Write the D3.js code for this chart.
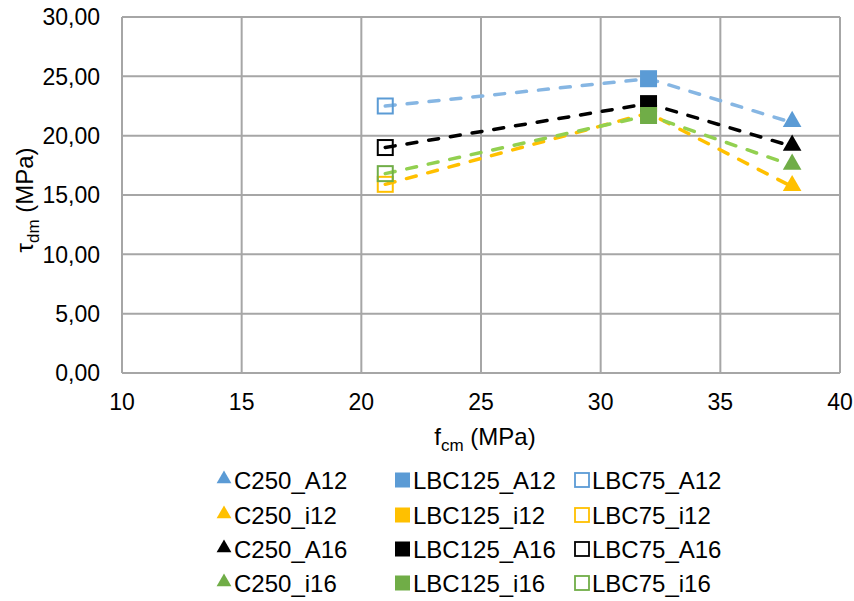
<!DOCTYPE html>
<html>
<head>
<meta charset="utf-8">
<script src="https://cdn.jsdelivr.net/npm/d3@7"></script>
<style>
  body { margin: 0; background: #fff; }
  text { font-family: "Liberation Sans", Arial, sans-serif; fill: #000; }
</style>
</head>
<body>
<div id="chart"></div>
<script>
'use strict';

// data
var groups = ["A12", "i12", "A16", "i16"];
var markerColors = ["#5B9BD5", "#FFC000", "#000000", "#70AD47"];
var lineColors = ["#86B6E3", "#FFC000", "#000000", "#92D050"];
var lbc75X = 21, lbc125X = 32, c250X = 38;
var lbc75Values = [22.5, 15.9, 19.0, 16.8];
var lbc125Values = [24.8, 21.9, 22.7, 21.7];
var c250Values = [21.1, 15.7, 19.1, 17.5];
var xTicks = [10, 15, 20, 25, 30, 35, 40];
var yTicks = [0, 5, 10, 15, 20, 25, 30];

var svgWidth = 854, svgHeight = 601,
    margin = { top: 17, left: 122, right: 14, bottom: 228 };
var width = svgWidth - margin.left - margin.right;
var height = svgHeight - margin.top - margin.bottom;

var svg = d3.select("#chart").append("svg")
  .attr("width", svgWidth)
  .attr("height", svgHeight);

var main = svg.append("g")
  .attr("transform", "translate(" + margin.left + "," + margin.top + ")");

var x = d3.scaleLinear().domain([10, 40]).range([0, width]);
var y = d3.scaleLinear().domain([0, 30]).range([height, 0]);

var fmt = function(v) { return d3.format(".2f")(v).replace(".", ","); };

// grid
main.selectAll(".hgrid").data(yTicks).enter().append("line")
  .attr("x1", 0).attr("x2", width)
  .attr("y1", function(d) { return y(d); })
  .attr("y2", function(d) { return y(d); })
  .attr("stroke", "#A6A6A6").attr("stroke-width", 2);

main.selectAll(".vgrid").data(xTicks).enter().append("line")
  .attr("y1", 0).attr("y2", height)
  .attr("x1", function(d) { return x(d); })
  .attr("x2", function(d) { return x(d); })
  .attr("stroke", "#A6A6A6").attr("stroke-width", 2);

// tick labels
main.selectAll(".ylab").data(yTicks).enter().append("text")
  .attr("x", -22)
  .attr("y", function(d) { return y(d); })
  .attr("dy", "0.36em")
  .attr("text-anchor", "end")
  .style("font-size", "23px")
  .text(fmt);

main.selectAll(".xlab").data(xTicks).enter().append("text")
  .attr("x", function(d) { return x(d); })
  .attr("y", height + 37)
  .attr("text-anchor", "middle")
  .style("font-size", "23px")
  .text(function(d) { return d; });

// axis titles
var xt = main.append("text")
  .attr("x", width / 2 + 4)
  .attr("y", height + 72)
  .attr("text-anchor", "middle")
  .style("font-size", "24px");
xt.append("tspan").text("f");
xt.append("tspan").attr("dy", 6).style("font-size", "17px").text("cm");
xt.append("tspan").attr("dy", -6).text(" (MPa)");

var yt = main.append("text")
  .attr("transform", "translate(" + (-89) + "," + (height / 2 + 5) + ") rotate(-90)")
  .attr("text-anchor", "middle")
  .style("font-size", "24px");
yt.append("tspan").text("τ");
yt.append("tspan").attr("dy", 6).style("font-size", "17px").text("dm");
yt.append("tspan").attr("dy", -6).text(" (MPa)");

// dashed connecting lines
var line = d3.line()
  .x(function(d) { return x(d[0]); })
  .y(function(d) { return y(d[1]); });

groups.forEach(function(g, i) {
  var pts = [[lbc75X, lbc75Values[i]], [lbc125X, lbc125Values[i]], [c250X, c250Values[i]]];
  main.append("path")
    .datum(pts)
    .attr("fill", "none")
    .attr("stroke", lineColors[i])
    .attr("stroke-width", 3.5)
    .attr("stroke-linecap", "round")
    .attr("stroke-dasharray", "10,12")
    .attr("d", line);
});

var triangle = d3.symbol().type(d3.symbolTriangle).size(150);

// markers (series order: C250, LBC125, LBC75 per group)
groups.forEach(function(g, i) {
  main.append("path")
    .attr("d", triangle())
    .attr("transform", "translate(" + x(c250X) + "," + (y(c250Values[i]) - 1) + ")")
    .attr("fill", markerColors[i]);
  main.append("rect")
    .attr("x", x(lbc125X) - 8.5).attr("y", y(lbc125Values[i]) - 8.5)
    .attr("width", 17).attr("height", 17)
    .attr("fill", markerColors[i]);
  main.append("rect")
    .attr("x", x(lbc75X) - 7.5).attr("y", y(lbc75Values[i]) - 7.5)
    .attr("width", 15).attr("height", 15)
    .attr("fill", "none")
    .attr("stroke", markerColors[i])
    .attr("stroke-width", 2);
});

// legend
var legend = svg.append("g");
var colX = [224, 402.5, 582];
var textX = [234, 413, 592];
var rowY = [480, 515, 549, 583];
var legTriangle = d3.symbol().type(d3.symbolTriangle).size(95);

groups.forEach(function(g, i) {
  var cy = rowY[i];
  legend.append("path")
    .attr("d", legTriangle())
    .attr("transform", "translate(" + colX[0] + "," + (cy - 1) + ")")
    .attr("fill", markerColors[i]);
  legend.append("text")
    .attr("x", textX[0]).attr("y", cy).attr("dy", "0.36em")
    .style("font-size", "24px")
    .text("C250_" + g);

  legend.append("rect")
    .attr("x", colX[1] - 7.5).attr("y", cy - 7.5)
    .attr("width", 15).attr("height", 15)
    .attr("fill", markerColors[i]);
  legend.append("text")
    .attr("x", textX[1]).attr("y", cy).attr("dy", "0.36em")
    .style("font-size", "24px")
    .text("LBC125_" + g);

  legend.append("rect")
    .attr("x", colX[2] - 7).attr("y", cy - 7)
    .attr("width", 14).attr("height", 14)
    .attr("fill", "none")
    .attr("stroke", markerColors[i])
    .attr("stroke-width", 1.8);
  legend.append("text")
    .attr("x", textX[2]).attr("y", cy).attr("dy", "0.36em")
    .style("font-size", "24px")
    .text("LBC75_" + g);
});
</script>
</body>
</html>
